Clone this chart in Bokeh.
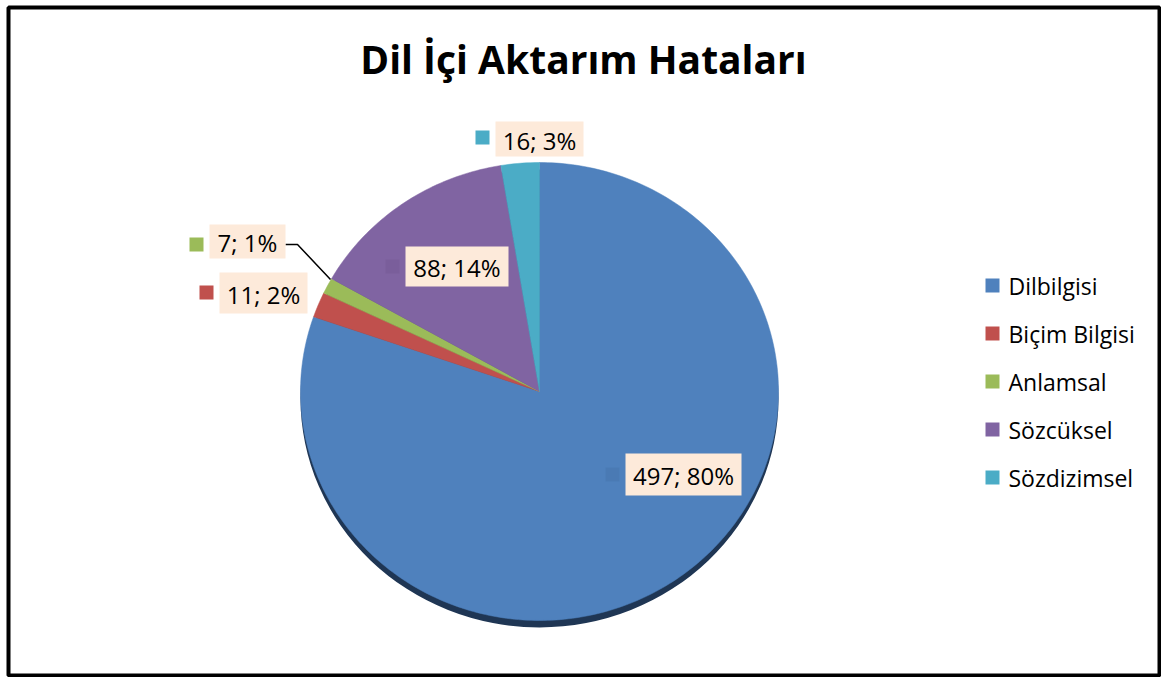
import math
from bokeh.plotting import figure
from bokeh.models import Range1d
from bokeh.embed import file_html
from bokeh.resources import INLINE
from bokeh.core.properties import value

# ---- data ----
categories = ["Dilbilgisi", "Biçim Bilgisi", "Anlamsal", "Sözcüksel", "Sözdizimsel"]
counts = [497, 11, 7, 88, 16]
title_text = "Dil İçi Aktarım Hataları"

# ---- styles ----
colors = ["#4F81BD", "#C0504D", "#9BBB59", "#8064A2", "#4BACC6"]
key_colors = ["#4A7AB4", "#C0504D", "#9BBB59", "#7A5E9B", "#4BACC6"]
FONT = "Open Sans"

# ---- layout (page pixel coordinates) ----
W, H = 1161, 677
BL, BT, BR, BB = 8, 7, 2, 2
cx, cy, rx, ry = 539, 391, 239, 229

# label boxes: (center x, center y, width, height), key square center
label_boxes = [(683, 474, 116, 42), (263, 292.5, 88, 41), (247, 241, 76, 34),
               (456.5, 266, 103, 40), (539, 138.5, 88, 35)]
label_keys = [(612, 474), (206, 292), (196, 244), (392, 266), (482, 137)]
leader = ([285, 297, 330], [244, 244, 279])
legend_x, legend_y0, legend_dy = 992, 285, 48

p = figure(width=W, height=H, output_backend="svg", toolbar_location=None,
           x_range=Range1d(BL, W - BR), y_range=Range1d(H - BB, BT),
           x_axis_location=None, y_axis_location=None,
           min_border_left=BL, min_border_right=BR, min_border_top=BT, min_border_bottom=BB)
p.grid.visible = False
p.outline_line_color = "black"
p.outline_line_width = 4
p.background_fill_color = "white"
p.border_fill_color = "white"

# title
p.text(x=[583], y=[58], text=[title_text], text_font=value(FONT),
       text_font_style="bold", text_font_size="39px", text_align="center",
       text_baseline="middle", text_color="black")

# shadow
p.ellipse(x=[cx], y=[cy + 7], width=[2 * rx], height=[2 * ry],
          fill_color="#1F3654", line_color=None)

# slices
total = sum(counts)
xs, ys = [], []
start = 0.0
for c in counts:
    end = start + c / total * 2 * math.pi
    n = max(4, int((end - start) / (2 * math.pi) * 360))
    px, py = [cx], [cy]
    for i in range(n + 1):
        t = start + (end - start) * i / n
        px.append(cx + rx * math.sin(t))
        py.append(cy - ry * math.cos(t))
    xs.append(px)
    ys.append(py)
    start = end
p.patches(xs=xs, ys=ys, fill_color=colors, line_color=colors, line_width=0.5)

# leader line
p.line(x=leader[0], y=leader[1], line_color="black", line_width=1.5)

# data labels
texts = [f"{c}; {round(c / total * 100)}%" for c in counts]
p.rect(x=[b[0] for b in label_boxes], y=[b[1] for b in label_boxes],
       width=[b[2] for b in label_boxes], height=[b[3] for b in label_boxes],
       fill_color="#FDEADA", line_color=None)
p.rect(x=[k[0] for k in label_keys], y=[k[1] for k in label_keys],
       width=14, height=14, fill_color=key_colors, line_color=None)
p.text(x=[b[0] for b in label_boxes], y=[b[1] + 1 for b in label_boxes], text=texts,
       text_font=value(FONT), text_font_size="24px", text_align="center",
       text_baseline="middle", text_color="black")

# legend
ly = [legend_y0 + i * legend_dy for i in range(len(categories))]
p.rect(x=[legend_x] * len(categories), y=ly, width=14, height=14,
       fill_color=colors, line_color=None)
p.text(x=[legend_x + 16] * len(categories), y=ly, text=categories,
       text_font=value(FONT), text_font_size="23px", text_align="left",
       text_baseline="middle", text_color="black")

open("out.html", "w").write(file_html(p, INLINE))
